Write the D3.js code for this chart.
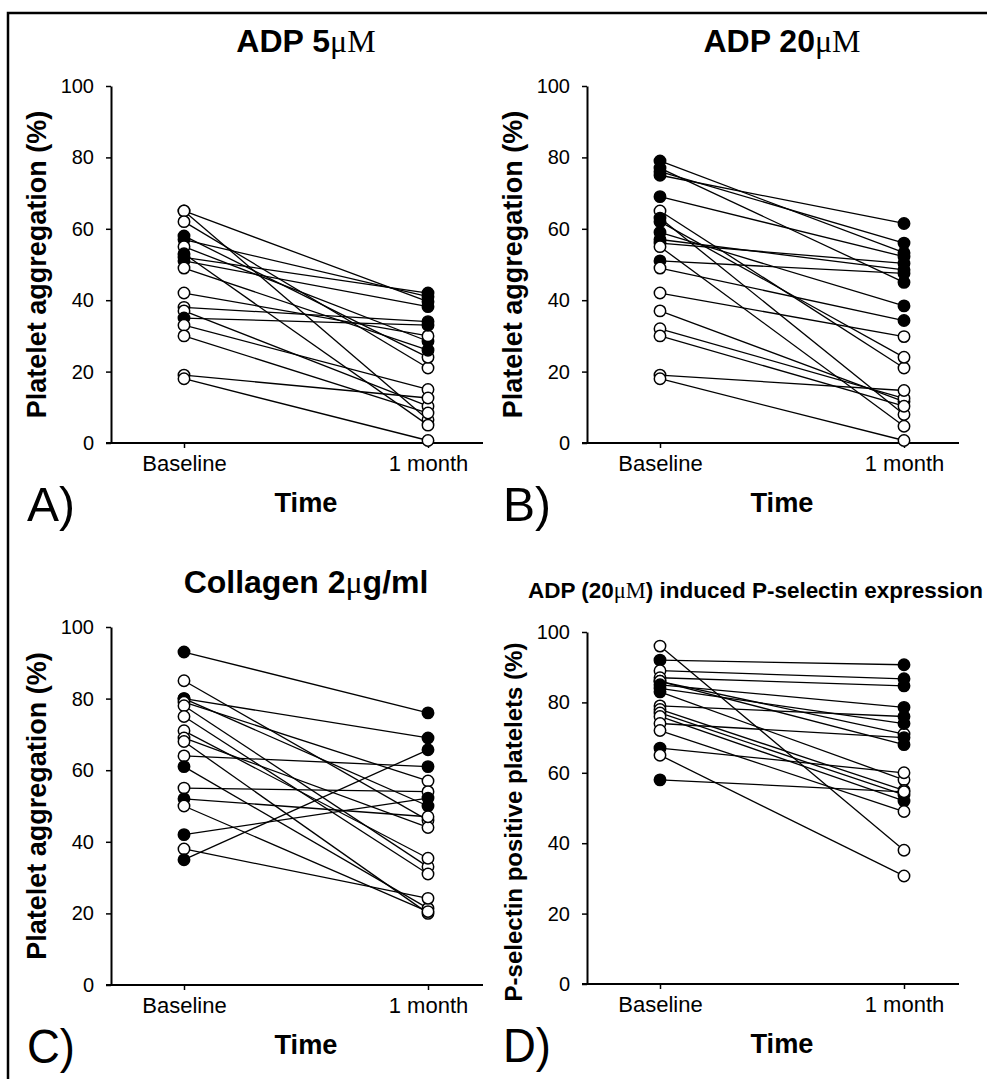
<!DOCTYPE html>
<html>
<head>
  <meta charset="utf-8">
  <title>Platelet aggregation, baseline vs 1 month</title>
  <style>
    body { margin: 0; background: #fff; }
    svg { display: block; font-family: "Liberation Sans", Arial, sans-serif; }
  </style>
</head>
<body>
  <svg width="987" height="1079"></svg>

  <script src="https://d3js.org/d3.v7.min.js"></script>
  <script>
    // x categories and y ticks shared by all four panels
    var timepoints = ['Baseline', '1 month'];
    var yTicks = [0, 20, 40, 60, 80, 100];

    // A) ADP 5uM - platelet aggregation (%)
    var adp5Baseline       = [65, 65, 62, 58, 57, 55, 53, 52, 51, 49, 42, 38, 37, 35, 33, 30, 19, 18];
    var adp5BaselineFilled = [0, 0, 0, 1, 1, 0, 1, 1, 1, 0, 0, 0, 0, 1, 0, 0, 0, 0];
    var adp5Month          = [39.6, 6.5, 21, 24, 41, 28.5, 5, 42, 38.2, 26, 30, 34, 10.3, 33, 15, 8.4, 12.6, 0.7];
    var adp5MonthFilled    = [1, 0, 0, 0, 1, 1, 0, 1, 1, 1, 0, 1, 0, 1, 0, 0, 0, 0];

    // B) ADP 20uM - platelet aggregation (%)
    var adp20Baseline       = [79, 77, 76, 75, 69, 65, 63, 62, 59, 57, 56, 55, 51, 49, 42, 37, 32, 30, 19, 18];
    var adp20BaselineFilled = [1, 1, 1, 1, 1, 0, 1, 1, 1, 1, 1, 0, 1, 0, 0, 0, 0, 0, 0, 0];
    var adp20Month          = [53.3, 45, 56, 61.5, 52.2, 21, 8, 24, 38.4, 48.5, 50.3, 4.7, 47.5, 34.3, 29.8, 11.6, 12.5, 10.3, 14.7, 0.7];
    var adp20MonthFilled    = [1, 1, 1, 1, 1, 0, 0, 0, 1, 1, 1, 0, 1, 1, 0, 0, 0, 0, 0, 0];

    // C) Collagen 2ug/ml - platelet aggregation (%)
    var collBaseline       = [93, 85, 80, 80, 79, 78, 75, 71, 69, 68, 64, 61, 55, 52, 50, 42, 38, 35];
    var collBaselineFilled = [1, 0, 1, 1, 0, 0, 0, 0, 0, 0, 0, 1, 0, 1, 0, 1, 0, 1];
    var collMonth          = [76, 46, 69, 50, 57, 33, 31, 35.4, 44, 20, 61, 21.4, 54, 47, 20.5, 52.2, 24.2, 65.7];
    var collMonthFilled    = [1, 0, 1, 1, 0, 0, 0, 0, 0, 0, 1, 0, 0, 0, 0, 1, 0, 1];

    // D) ADP (20uM) induced P-selectin positive platelets (%)
    var pselBaseline       = [96, 92, 89, 87, 86, 86, 85, 84, 83, 79, 78, 77, 76, 74, 72, 67, 65, 58];
    var pselBaselineFilled = [0, 1, 0, 0, 1, 0, 1, 1, 1, 0, 0, 0, 0, 0, 0, 1, 0, 1];
    var pselMonth          = [38, 90.7, 86.7, 84.7, 68, 71, 78.6, 74, 58, 76, 55, 53.7, 52, 70, 49, 60, 30.7, 54.6];
    var pselMonthFilled    = [0, 1, 1, 1, 1, 0, 1, 1, 0, 1, 0, 1, 1, 1, 0, 0, 0, 0];

    var svg = d3.select('svg');

    // outer frame (left and top edges only are visible)
    svg.append('path')
      .attr('d', 'M8,1090V13H995')
      .attr('fill', 'none')
      .attr('stroke', '#000')
      .attr('stroke-width', 2.5);

    var panels = [
      { letter: 'A)', ax: 111, y0: 443, y100: 86, title: ['ADP 5', 'μM', ''], titleSize: 32,
        yLabel: 'Platelet aggregation (%)', labelX: 37,
        base: adp5Baseline, baseFilled: adp5BaselineFilled, month: adp5Month, monthFilled: adp5MonthFilled },
      { letter: 'B)', ax: 587, y0: 443, y100: 86, title: ['ADP 20', 'μM', ''], titleSize: 32,
        yLabel: 'Platelet aggregation (%)', labelX: 513,
        base: adp20Baseline, baseFilled: adp20BaselineFilled, month: adp20Month, monthFilled: adp20MonthFilled },
      { letter: 'C)', ax: 111, y0: 985, y100: 627, title: ['Collagen 2', 'μ', 'g/ml'], titleSize: 32,
        yLabel: 'Platelet aggregation (%)', labelX: 37,
        base: collBaseline, baseFilled: collBaselineFilled, month: collMonth, monthFilled: collMonthFilled },
      { letter: 'D)', ax: 587, y0: 984, y100: 632, title: ['ADP (20', 'μM', ') induced P-selectin expression'], titleSize: 22.5,
        titleLeft: 528, titleWidth: 455,
        yLabel: 'P-selectin positive platelets (%)', labelX: 513, labelSize: 24, labelShift: 14,
        base: pselBaseline, baseFilled: pselBaselineFilled, month: pselMonth, monthFilled: pselMonthFilled }
    ];

    panels.forEach(drawPanel);

    function drawPanel(p) {
      var y = d3.scaleLinear().domain([0, 100]).range([p.y0, p.y100]);
      var x = d3.scalePoint().domain(timepoints).range([p.ax + 73, p.ax + 317]);
      var mid = (x(timepoints[0]) + x(timepoints[1])) / 2;
      var g = svg.append('g');

      // y axis
      var yAxis = g.append('g')
        .attr('transform', 'translate(' + p.ax + ',0)')
        .call(d3.axisLeft(y).tickValues(yTicks).tickSize(5).tickSizeOuter(0).tickPadding(12));
      yAxis.attr('font-size', 20).attr('font-family', null);
      yAxis.select('.domain').attr('stroke-width', 2);
      yAxis.selectAll('.tick line').attr('stroke-width', 1.5);

      // x axis, baseline drawn longer than the point range
      var xAxis = g.append('g')
        .attr('transform', 'translate(0,' + p.y0 + ')')
        .call(d3.axisBottom(x).tickSize(5).tickPadding(7));
      xAxis.attr('font-size', 22).attr('font-family', null);
      xAxis.select('.domain').remove();
      xAxis.selectAll('.tick line').attr('stroke-width', 1.5);
      g.append('line')
        .attr('x1', p.ax - 5).attr('x2', p.ax + 372)
        .attr('y1', p.y0).attr('y2', p.y0)
        .attr('stroke', '#000').attr('stroke-width', 2);

      // title; the micro sign is set in a serif face like the original
      var t = g.append('text')
        .attr('y', p.y100 - 34)
        .attr('font-weight', 'bold')
        .attr('font-size', p.titleSize);
      if (p.titleLeft) {
        t.attr('x', p.titleLeft)
          .attr('textLength', p.titleWidth)
          .attr('lengthAdjust', 'spacingAndGlyphs');
      } else {
        t.attr('x', mid).attr('text-anchor', 'middle');
      }
      t.append('tspan').text(p.title[0]);
      t.append('tspan').attr('font-family', '"Liberation Serif", "Times New Roman", serif').attr('font-weight', 'normal').text(p.title[1]);
      t.append('tspan').text(p.title[2]);

      // y label
      g.append('text')
        .attr('transform', 'translate(' + p.labelX + ',' + ((p.y0 + p.y100) / 2 + (p.labelShift || 0)) + ') rotate(-90)')
        .attr('text-anchor', 'middle')
        .attr('dominant-baseline', 'central')
        .attr('font-weight', 'bold')
        .attr('font-size', p.labelSize || 27)
        .text(p.yLabel);

      // x label
      g.append('text')
        .attr('x', mid).attr('y', p.y0 + 69)
        .attr('text-anchor', 'middle')
        .attr('font-weight', 'bold')
        .attr('font-size', 28)
        .attr('textLength', 63).attr('lengthAdjust', 'spacingAndGlyphs')
        .text('Time');

      // panel letter
      g.append('text')
        .attr('x', p.ax - 84).attr('y', p.y0 + 78)
        .attr('font-size', 49)
        .attr('textLength', 48).attr('lengthAdjust', 'spacingAndGlyphs')
        .text(p.letter);

      // one line per subject, then the two points on top
      var subjects = p.base.map(function(b, i) {
        return { base: b, month: p.month[i], baseFilled: p.baseFilled[i], monthFilled: p.monthFilled[i] };
      });

      g.append('g').selectAll('line')
        .data(subjects)
        .join('line')
        .attr('x1', x(timepoints[0])).attr('y1', function(d) { return y(d.base); })
        .attr('x2', x(timepoints[1])).attr('y2', function(d) { return y(d.month); })
        .attr('stroke', '#000')
        .attr('stroke-width', 1.3);

      var points = [];
      subjects.forEach(function(d) {
        points.push({ t: timepoints[0], v: d.base, filled: d.baseFilled });
        points.push({ t: timepoints[1], v: d.month, filled: d.monthFilled });
      });

      g.append('g').selectAll('circle')
        .data(points)
        .join('circle')
        .attr('cx', function(d) { return x(d.t); })
        .attr('cy', function(d) { return y(d.v); })
        .attr('r', 5.7)
        .attr('fill', function(d) { return d.filled ? '#000' : '#fff'; })
        .attr('stroke', '#000')
        .attr('stroke-width', 1.5);
    }
  </script>
</body>
</html>
